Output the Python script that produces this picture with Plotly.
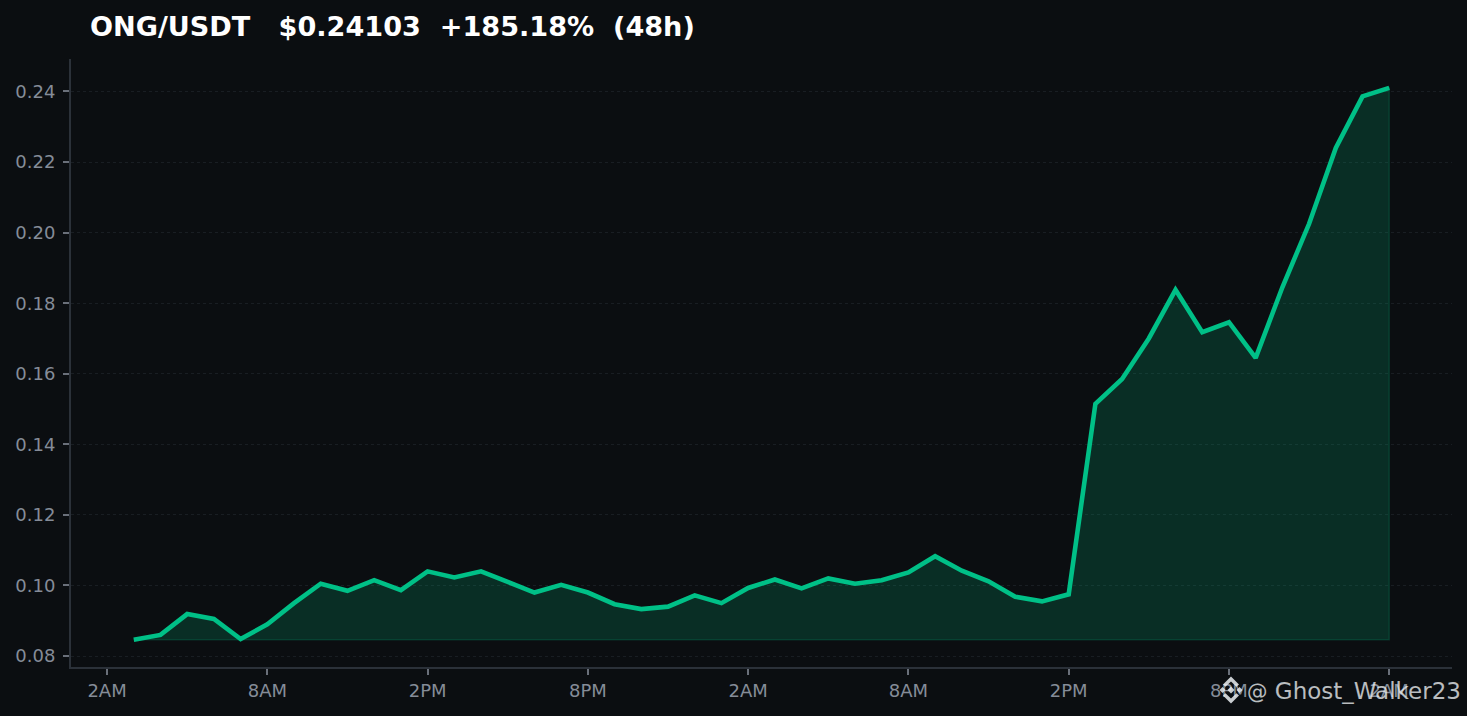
import plotly.graph_objects as go

### data
hours = list(range(1, 49))  # hours after 2AM on the first day
prices = [0.0846, 0.0860, 0.0919, 0.0905, 0.0848, 0.0890, 0.0950, 0.1005,
          0.0985, 0.1015, 0.0987, 0.1040, 0.1023, 0.1040, 0.1010, 0.0980,
          0.1002, 0.0980, 0.0947, 0.0933, 0.0940, 0.0972, 0.0950, 0.0993,
          0.1017, 0.0992, 0.1020, 0.1005, 0.1015, 0.1037, 0.1083, 0.1042,
          0.1012, 0.0968, 0.0955, 0.0975, 0.1515, 0.1585, 0.1700, 0.1838,
          0.1718, 0.1746, 0.1645, 0.1845, 0.2025, 0.2240, 0.2386, 0.24103]
tick_hours = [0, 6, 12, 18, 24, 30, 36, 42, 48]
tick_labels = ["2AM", "8AM", "2PM", "8PM", "2AM", "8AM", "2PM", "8PM", "2AM"]
y_ticks = [0.08, 0.10, 0.12, 0.14, 0.16, 0.18, 0.20, 0.22, 0.24]
title_text = "ONG/USDT   $0.24103  +185.18%  (48h)"
watermark_text = "Ghost_Walker23"

### page geometry
W, H = 1467, 716
L, R, T, B = 71, 15, 59, 49
BG = "#0b0e11"
GREEN = "#00c087"
FONT = "DejaVu Sans"


def px(x):
    return (x - L) / (W - L - R)


def py(y):
    return 1 - (y - T) / (H - T - B)


def poly(points, cx=1231, cy=690):
    # small polygon in pixels around the logo centre, as a paper-referenced shape
    path = "M" + " L".join(f"{px(cx + a):.5f},{py(cy + b):.5f}" for a, b in points) + " Z"
    return dict(type="path", xref="paper", yref="paper", path=path, layer="above",
                fillcolor="rgba(235,238,242,0.85)", line=dict(width=0))


baseline = min(prices)
fig = go.Figure()
# area under the line, closed down to the lowest price
fig.add_trace(go.Scatter(x=hours + hours[::-1], y=prices + [baseline] * len(hours),
                         mode="lines", fill="toself", fillcolor="rgba(0,192,135,0.18)",
                         line=dict(color="rgba(0,192,135,0.18)", width=1.5),
                         hoverinfo="skip", showlegend=False))
fig.add_trace(go.Scatter(x=hours, y=prices, mode="lines",
                         line=dict(color=GREEN, width=4.6), showlegend=False))

# binance style logo next to the watermark
logo = [
    [(-3.5, 0), (0, -3.5), (3.5, 0), (0, 3.5)],
    [(-11.5, 0), (-8.5, -3), (-5.5, 0), (-8.5, 3)],
    [(5.5, 0), (8.5, -3), (11.5, 0), (8.5, 3)],
    [(0, -13.5), (8, -5.5), (5.5, -3.2), (0, -8.5), (-5.5, -3.2), (-8, -5.5)],
    [(0, 13.5), (8, 5.5), (5.5, 3.2), (0, 8.5), (-5.5, 3.2), (-8, 5.5)],
]

fig.update_layout(
    width=W, height=H,
    paper_bgcolor=BG, plot_bgcolor=BG,
    margin=dict(l=L, r=R, t=T, b=B),
    font=dict(family=FONT, size=18, color="#858c98"),
    shapes=[poly(p) for p in logo],
    annotations=[
        dict(text=f"<b>{title_text}</b>", xref="paper", yref="paper",
             x=px(88), y=py(26), xanchor="left", yanchor="middle", showarrow=False,
             font=dict(family=FONT, size=27.1, color="#ffffff")),
        dict(text=f'<span style="font-size:20.5px">@</span> {watermark_text}', xref="paper", yref="paper",
             x=px(1244.5), y=py(691), xanchor="left", yanchor="middle", showarrow=False,
             font=dict(family=FONT, size=23, color="rgba(235,238,242,0.78)")),
    ],
)
fig.update_xaxes(range=[-1.35, 50.35], tickmode="array", tickvals=tick_hours, ticktext=tick_labels,
                 showgrid=False, zeroline=False, showline=True, linecolor="#2b3139", linewidth=2,
                 ticks="outside", ticklen=6, tickwidth=1.5, tickcolor="#6a707a")
fig.update_yaxes(range=[0.0769, 0.2492], tickmode="array", tickvals=y_ticks,
                 ticktext=[f"{v:.2f}" for v in y_ticks], ticklabelstandoff=4,
                 showgrid=True, gridcolor="#191e23", griddash="3px,3px", gridwidth=1,
                 zeroline=False, showline=True, linecolor="#2b3139", linewidth=2,
                 ticks="outside", ticklen=6, tickwidth=1.5, tickcolor="#6a707a")

# default page margin would push the figure off the 1467x716 window
fig.write_html("out.html", config=dict(displayModeBar=False),
               post_script="document.body.style.margin='0';document.body.style.background='#0b0e11';")
